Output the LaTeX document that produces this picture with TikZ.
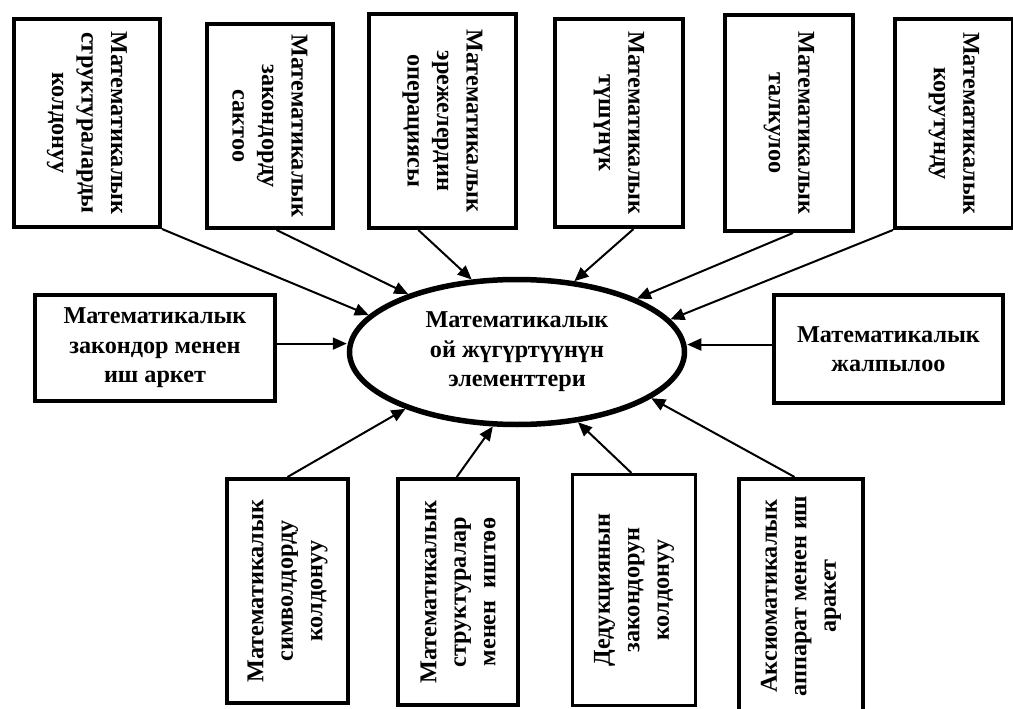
\documentclass[tikz,border=0pt]{standalone}
\usepackage{fontspec}
\setmainfont{Liberation Serif}
\usetikzlibrary{shapes.geometric,arrows.meta,calc}
\begin{document}
\begin{tikzpicture}[x=1pt,y=-1pt,
  box/.style={draw,line width=4pt,rectangle,inner sep=0pt},
  txt/.style={align=center,font=\fontsize{24.2}{29.5}\selectfont\bfseries},
  arr/.style={line width=2pt,-{Triangle[length=14pt,width=12pt]}}]
\useasboundingbox (0,0) rectangle (1013,709);
% top boxes
\node[box,minimum width=146pt,minimum height=208pt] (t1) at (87,123) {};
\node[txt,rotate=-90] at (t1) {Математикалык\\структураларды\\колдонуу};
\node[box,minimum width=126pt,minimum height=204pt] (t2) at (270,126) {};
\node[txt,rotate=-90] at (t2) {Математикалык\\закондорду\\сактоо};
\node[box,minimum width=147pt,minimum height=214pt] (t3) at (442.5,121) {};
\node[txt,rotate=-90] at (t3) {Математикалык\\эрежелердин\\операциясы};
\node[box,minimum width=128pt,minimum height=208pt] (t4) at (619,123) {};
\node[txt,rotate=-90] at (t4) {Математикалык\\түшүнүк};
\node[box,minimum width=128pt,minimum height=216pt] (t5) at (789,123) {};
\node[txt,rotate=-90] at (t5) {Математикалык\\талкулоо};
\node[box,minimum width=118pt,minimum height=209pt] (t6) at (954,123.5) {};
\node[txt,rotate=-90] at (t6) {Математикалык\\корутунду};
% middle
\node[box,minimum width=240pt,minimum height=106pt,txt] (lb) at (155,348) {Математикалык\\закондор менен\\иш аркет};
\node[box,minimum width=229pt,minimum height=108pt,txt] (rb) at (888.5,349) {Математикалык\\жалпылоо};
\node[draw,ellipse,line width=5.5pt,minimum width=335pt,minimum height=145pt,inner sep=0pt,txt] (e) at (517,352) {Математикалык\\ой жүгүртүүнүн\\элементтери};
% bottom boxes
\node[box,minimum width=121pt,minimum height=224pt] (b1) at (287.5,591) {};
\node[txt,rotate=90] at (b1) {Математикалык\\символдорду\\колдонуу};
\node[box,minimum width=120pt,minimum height=226pt] (b2) at (458,592) {};
\node[txt,rotate=90] at (b2) {Математикалык\\структуралар\\менен\ \ иштөө};
\node[box,line width=3pt,minimum width=123pt,minimum height=231pt] (b3) at (634,590) {};
\node[txt,rotate=90] at (b3) {Дедукциянын\\закондорун\\колдонуу};
\node[box,minimum width=124pt,minimum height=234pt] (b4) at (801,596) {};
\node[txt,rotate=90] at (b4) {Аксиоматикалык\\аппарат менен иш\\аракет};
% arrows
\draw[arr] (t1.south east) -- (e.166.5);
\draw[arr] ($(t2.south west)!0.55!(t2.south east)$) -- (e.152.7);
\draw[arr] ($(t3.south west)!0.34!(t3.south east)$) -- (e.122.1);
\draw[arr] ($(t4.south west)!0.61!(t4.south east)$) -- (e.51.3);
\draw[arr] ($(t5.south west)!0.53!(t5.south east)$) -- (e.24.3);
\draw[arr] (t6.south west) -- (e.12.6);
\draw[arr] ($(lb.north east)!0.46!(lb.south east)$) -- (e.west|-{$(lb.north east)!0.46!(lb.south east)$});
\draw[arr] ($(rb.north west)!0.46!(rb.south west)$) -- (e.east|-{$(rb.north west)!0.46!(rb.south west)$});
\draw[arr] ($(b1.north west)!0.5!(b1.north east)$) -- (e.-153.4);
\draw[arr] ($(b2.north west)!0.49!(b2.north east)$) -- (e.-108.2);
\draw[arr] ($(b3.north west)!0.48!(b3.north east)$) -- (e.-49.7);
\draw[arr] ($(b4.north west)!0.45!(b4.north east)$) -- (e.-19.8);
\end{tikzpicture}
\end{document}
